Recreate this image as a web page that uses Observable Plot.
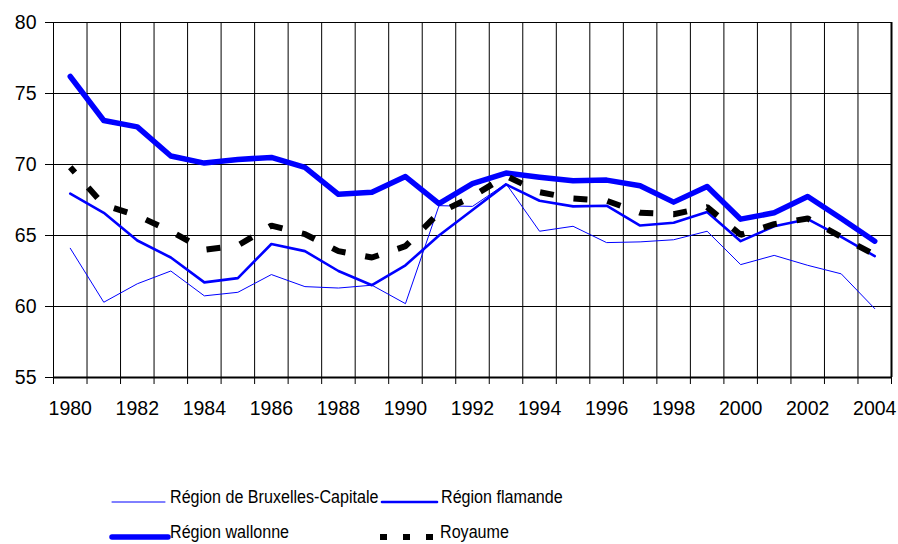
<!DOCTYPE html>
<html><head><meta charset="utf-8">
<script src="https://cdn.jsdelivr.net/npm/d3@7"></script>
<script src="https://cdn.jsdelivr.net/npm/@observablehq/plot@0.6"></script>
<style>
body{margin:0;background:#fff;font-family:"Liberation Sans",Arial,Helvetica,sans-serif;}
#wrap{position:relative;width:898px;height:544px;overflow:hidden;}
#wrap > svg.plot, #wrap > svg:first-child{position:absolute;left:0;top:0;}
.leg{position:absolute;font-size:17.5px;line-height:17.5px;color:#000;white-space:nowrap;transform:scaleX(0.92);transform-origin:0 50%;}
.sw{position:absolute;overflow:visible;}
</style></head><body><div id="wrap"></div>
<script>
const years = [1980,1981,1982,1983,1984,1985,1986,1987,1988,1989,1990,1991,1992,1993,1994,1995,1996,1997,1998,1999,2000,2001,2002,2003,2004];
const labelYears = [1980,1982,1984,1986,1988,1990,1992,1994,1996,1998,2000,2002,2004];
const yTicks = [55,60,65,70,75,80];
const seriesNames = ["Région de Bruxelles-Capitale","Région flamande","Région wallonne","Royaume"];
const bruxelles = [64.1,60.3,61.6,62.5,60.75,61.0,62.25,61.4,61.3,61.5,60.2,67.1,67.05,68.65,65.3,65.65,64.5,64.55,64.7,65.3,62.95,63.6,62.9,62.3,59.85];
const flamande  = [67.95,66.6,64.65,63.45,61.7,62.0,64.4,63.9,62.5,61.5,62.9,65.0,66.8,68.6,67.45,67.05,67.1,65.7,65.9,66.65,64.6,65.65,66.15,64.9,63.55];
const wallonne  = [76.2,73.1,72.65,70.6,70.1,70.35,70.5,69.8,67.9,68.05,69.15,67.25,68.65,69.4,69.1,68.85,68.9,68.5,67.35,68.45,66.15,66.6,67.75,66.2,64.6];
const royaume   = [69.8,67.15,66.4,65.3,64.0,64.3,65.7,65.1,63.9,63.45,64.25,66.6,67.75,69.2,68.05,67.6,67.45,66.6,66.5,67.0,65.05,65.8,66.2,64.9,63.65];

const styles = [
  {name: seriesNames[0], values: bruxelles, stroke: "#0000ff", strokeWidth: 1, dash: null},
  {name: seriesNames[1], values: flamande,  stroke: "#0000ff", strokeWidth: 2.6, dash: null},
  {name: seriesNames[2], values: wallonne,  stroke: "#0000ff", strokeWidth: 5.5, dash: null},
  {name: seriesNames[3], values: royaume,   stroke: "#000000", strokeWidth: 6, dash: "14,20"}
];
const rows = styles.flatMap(s => years.map((yr, i) => ({name: s.name, year: yr, value: s.values[i]})));
const edges = years.map(y => y - 0.5).concat([years[years.length - 1] + 0.5]);

const H = 440, FONT = "'Liberation Sans', Arial, Helvetica, sans-serif";
const chart = Plot.plot({
  width: 898, height: H,
  marginLeft: 53, marginRight: 7, marginTop: 22, marginBottom: H - 377,
  x: {type: "linear", domain: [edges[0], edges[edges.length - 1]], label: null},
  y: {domain: [yTicks[0], yTicks[yTicks.length - 1]], label: null},
  style: {fontFamily: FONT, fontSize: "19.5px", color: "#000", background: "#fff"},
  marks: [
    Plot.ruleY(yTicks, {stroke: "#000", strokeWidth: 1}),
    Plot.ruleX(edges, {y1: yTicks[0], y2: yTicks[yTicks.length - 1], stroke: "#000", strokeWidth: 1}),
    Plot.ruleY([yTicks[0]], {stroke: "#000", strokeWidth: 2}),
    Plot.ruleX([edges[edges.length - 1]], {y1: yTicks[0], y2: yTicks[yTicks.length - 1], stroke: "#000", strokeWidth: 2}),
    Plot.axisX({ticks: edges, tickSize: 7, fill: "none", stroke: "#000", label: null}),
    Plot.axisY({ticks: yTicks, tickSize: 8, tickPadding: 9, fontSize: 19.5, tickFormat: d => String(d), label: null}),
    Plot.axisX({ticks: labelYears, tickSize: 0, tickPadding: 24, fontSize: 19.5, tickFormat: d => String(d), label: null}),
    ...styles.map(s => Plot.line(rows.filter(r => r.name === s.name), {
      x: "year", y: "value", stroke: s.stroke, strokeWidth: s.strokeWidth,
      strokeDasharray: s.dash ?? undefined,
      strokeDashoffset: s.dash ? 7 : undefined,
      strokeLinecap: s.dash ? "butt" : "round",
      strokeLinejoin: s.dash ? "miter" : "round"
    }))
  ]
});
const wrap = document.getElementById("wrap");
wrap.appendChild(chart);

// legend (HTML below the svg)
const legendItems = [
  {s: styles[0], sx: 112, sw: 53, y: 502, tx: 170},
  {s: styles[1], sx: 382, sw: 55, y: 502, tx: 441},
  {s: styles[2], sx: 112, sw: 56, y: 537, tx: 170},
  {s: styles[3], sx: 380, sw: 54, y: 537, tx: 440}
];
const ns = "http://www.w3.org/2000/svg";
for (const it of legendItems) {
  const svg = document.createElementNS(ns, "svg");
  svg.setAttribute("class", "sw");
  svg.setAttribute("width", it.sw + 10);
  svg.setAttribute("height", 12);
  svg.style.left = (it.sx - 5) + "px";
  svg.style.top = (it.y - 6) + "px";
  const ln = document.createElementNS(ns, "line");
  ln.setAttribute("x1", 5); ln.setAttribute("x2", 5 + it.sw);
  ln.setAttribute("y1", 6); ln.setAttribute("y2", 6);
  ln.setAttribute("stroke", it.s.stroke);
  ln.setAttribute("stroke-width", it.s.strokeWidth);
  if (it.s.dash) { ln.setAttribute("stroke-dasharray", "7,16"); ln.setAttribute("stroke-linecap", "butt"); }
  else ln.setAttribute("stroke-linecap", "round");
  svg.appendChild(ln);
  wrap.appendChild(svg);
  const d = document.createElement("div");
  d.className = "leg";
  d.textContent = it.s.name;
  d.style.left = it.tx + "px";
  d.style.top = (it.y - 13.5) + "px";
  wrap.appendChild(d);
}
</script></body></html>
